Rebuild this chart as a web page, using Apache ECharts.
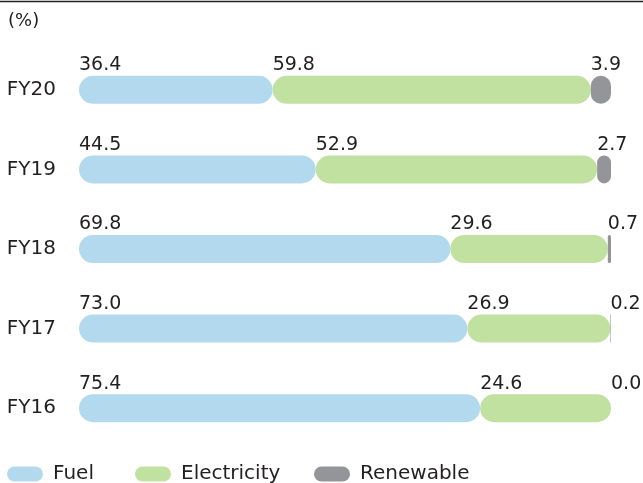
<!DOCTYPE html>
<html>
<head>
<meta charset="utf-8">
<script src="https://cdn.jsdelivr.net/npm/echarts@6/dist/echarts.min.js"></script>
<style>html,body{margin:0;padding:0;background:#fff}#c{width:643px;height:483px}</style>
</head>
<body>
<div id="c"></div>
<script>
const categories = ['FY20', 'FY19', 'FY18', 'FY17', 'FY16'];
const fuel = [36.4, 44.5, 69.8, 73.0, 75.4];
const electricity = [59.8, 52.9, 29.6, 26.9, 24.6];
const renewable = [3.9, 2.7, 0.7, 0.2, 0.0];
const seriesNames = ['Fuel', 'Electricity', 'Renewable'];
const unitLabel = '(%)';

const colors = ['#b3d9ee', '#c0e1a0', '#939598'];
const FONT = 'DejaVu Sans';
const TXT = '#231f20';
const pill = 'path://M7.5,0 H28.5 A7.5,7.5 0 0 1 28.5,15 H7.5 A7.5,7.5 0 0 1 7.5,0 Z';

const chart = echarts.init(document.getElementById('c'), null, {renderer: 'canvas'});

function mkSeries(name, data, color) {
  return {
    name: name,
    type: 'bar',
    stack: 'total',
    data: data,
    barWidth: 28,
    itemStyle: {color: color, borderRadius: 14},
    label: {
      show: true,
      position: [0, -1],
      align: 'left',
      verticalAlign: 'bottom',
      formatter: p => p.value.toFixed(1),
      fontFamily: FONT,
      fontSize: 19,
      color: TXT
    },
    emphasis: {disabled: true},
    animation: false
  };
}

const legendLefts = [7, 135, 314];

chart.setOption({
  animation: false,
  grid: {left: 79, right: 32, top: 50, bottom: 35, containLabel: false},
  xAxis: {type: 'value', min: 0, max: 100, show: false},
  yAxis: {
    type: 'category', data: categories, inverse: true,
    axisLine: {show: false}, axisTick: {show: false},
    axisLabel: {fontFamily: FONT, fontSize: 20, color: TXT, margin: 23}
  },
  legend: seriesNames.map((n, i) => ({
    data: [n],
    left: legendLefts[i],
    top: 463,
    padding: 0,
    itemWidth: 36,
    itemHeight: 15,
    icon: pill,
    selectedMode: false,
    textStyle: {fontFamily: FONT, fontSize: 20, color: TXT, lineHeight: 22, padding: [0, 0, 0, 5]}
  })),
  graphic: [
    {type: 'line', shape: {x1: 0, y1: 1.5, x2: 643, y2: 1.5}, style: {stroke: '#222', lineWidth: 1.5}},
    {type: 'text', left: 8, top: 12, style: {text: unitLabel, font: '18px "DejaVu Sans"', fill: TXT}}
  ],
  series: [
    mkSeries(seriesNames[0], fuel, colors[0]),
    mkSeries(seriesNames[1], electricity, colors[1]),
    mkSeries(seriesNames[2], renewable, colors[2])
  ]
});
</script>
</body>
</html>
